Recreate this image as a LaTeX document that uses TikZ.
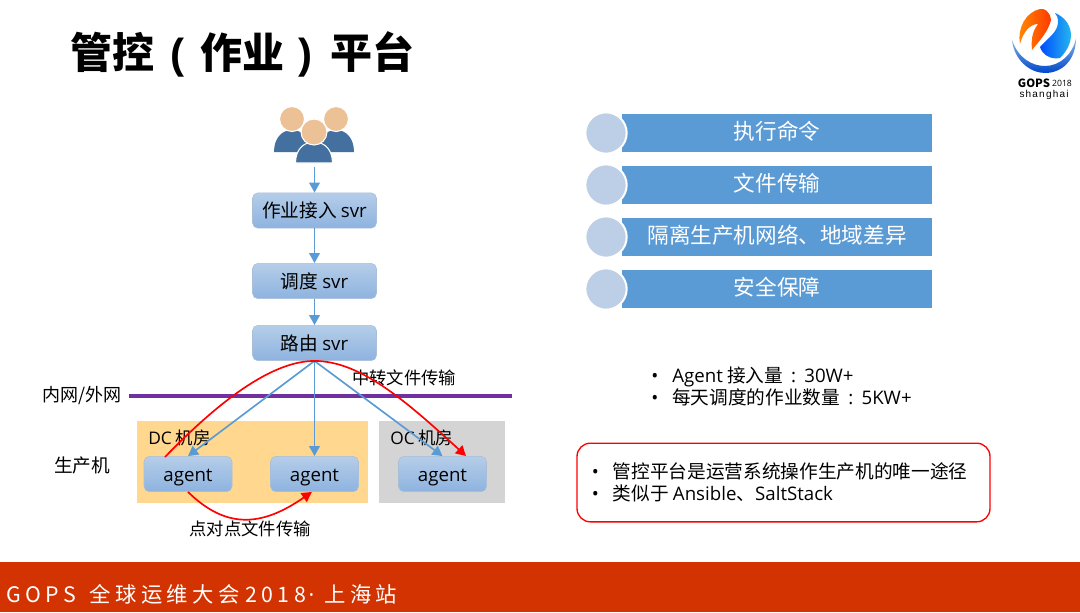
\documentclass[tikz,border=0pt]{standalone}
\usepackage{fontspec}
\setmainfont{Noto Sans CJK SC}
\newfontfamily\en{Open Sans}
\newfontfamily\footfont[LetterSpace=21]{Noto Sans CJK SC}
\newfontfamily\footdot{Open Sans}
\newfontfamily\titlefont{Liberation Sans}
\newfontfamily\logofont[LetterSpace=12]{Liberation Sans}
\usetikzlibrary{positioning, arrows.meta}
\newcommand{\bulletmark}{\makebox[15.75pt][l]{\en •}}
\newcommand{\colonmark}{\makebox[16pt][c]{\en :}}

\begin{document}
\begin{tikzpicture}[
        x=0.75pt, y=-0.75pt,
        widebox/.style={draw=boxedge, rounded corners=4pt, minimum width=93pt, minimum height=26.5pt, inner sep=0pt, top color=boxtop, bottom color=boxbottom, font=\fontsize{14}{16}\selectfont},
        agentbox/.style={widebox, minimum width=66pt, text height=10.5pt, text depth=0pt, font=\en\fontsize{14}{16}\selectfont},
        bluebar/.style={fill=barblue, minimum width=232.5pt, minimum height=28.5pt, inner sep=0pt, text=white, text height=13pt, text depth=3.2pt, font=\fontsize{16.2}{18}\selectfont},
        badge/.style={circle, draw=white, line width=1.5pt, fill=badgeblue, minimum size=31pt, inner sep=0pt},
        room/.style={minimum height=61.5pt, inner sep=0pt},
        arrow/.style={-{Triangle[length=7.5pt, width=8pt]}, line width=1.25pt},
        blue_arrow/.style={arrow, color=barblue},
        red_arrow/.style={arrow, color=red},
        black_label/.style={color=black, inner sep=0pt, font=\fontsize{13}{15}\selectfont},
        bullet_list/.style={anchor=west, align=left, inner sep=0pt, font=\fontsize{14}{16.5}\selectfont}
    ]
    \definecolor{boxedge}{HTML}{A9BFD6}
    \definecolor{boxtop}{HTML}{B5CDE9}
    \definecolor{boxbottom}{HTML}{8EB3DF}
    \definecolor{barblue}{HTML}{5B9BD5}
    \definecolor{badgeblue}{HTML}{BDCFE7}
    \definecolor{roomyellow}{HTML}{FFD78F}
    \definecolor{roomgray}{HTML}{D4D4D4}
    \definecolor{netpurple}{HTML}{7030A0}
    \definecolor{footred}{HTML}{D23300}
    \definecolor{skin}{HTML}{EDC196}
    \definecolor{suit}{HTML}{44709F}
    \useasboundingbox (0,0) rectangle (1080,612);

    % Title and footer
    \node[anchor=west, inner sep=0pt, font=\fontsize{31.5}{36}\bfseries\selectfont] (title) at (70,54) {管控\hspace{12pt}{\titlefont(}\hspace{12pt}作业\hspace{10.5pt}{\titlefont)}\hspace{13.5pt}平台};
    \fill[footred] (0,562) rectangle (1080,612);
    \node[anchor=west, inner sep=0pt, text=white, font=\footfont\fontsize{16}{18}\selectfont] (footer) at (6,594) {GOPS\hspace{3pt} 全球运维大会\hspace{4pt}2018\hspace{2pt}{\footdot·}\hspace{7.5pt}上海站};

    % Logo
    \shade[top color=barblue!70!white, bottom color=blue!65!cyan!80!black] (1012,40) .. controls (1014,60) and (1030,73) .. (1045,73) .. controls (1062,73) and (1076,60) .. (1076,38) .. controls (1073,54) and (1060,66) .. (1045,66) .. controls (1032,66) and (1018,58) .. (1012,40) -- cycle;
    \shade[left color=orange!90!yellow, right color=red!55!orange] (1020,44) .. controls (1017,28) and (1026,12) .. (1040,9) .. controls (1044,8) and (1050,11) .. (1051,20) .. controls (1048,32) and (1040,40) .. (1032,50) .. controls (1031,40) and (1032,32) .. (1038,24) .. controls (1030,24) and (1023,32) .. (1020,44) -- cycle;
    \shade[left color=blue!70!cyan, right color=cyan!50!barblue] (1055,13) .. controls (1072,20) and (1078,40) .. (1060,58) .. controls (1050,60) and (1042,54) .. (1040,47) .. controls (1048,38) and (1058,32) .. (1058,22) .. controls (1058,18) and (1057,15) .. (1055,13) -- cycle;
    \node[inner sep=0pt, font=\fontsize{8.5}{9}\bfseries\selectfont] (logo_name) at (1034,83) {GOPS};
    \node[inner sep=0pt, font=\en\fontsize{6.5}{8}\selectfont] (logo_year) at (1062,83) {2018};
    \node[inner sep=0pt, font=\logofont\fontsize{7.5}{8}\selectfont] (logo_city) at (1044,95) {shanghai};

    % Users
    \fill[suit] (274,152) .. controls (274,138) and (282,130) .. (292,130) .. controls (302,130) and (310,138) .. (310,152) -- cycle;
    \fill[suit] (318,152) .. controls (318,138) and (326,130) .. (336,130) .. controls (346,130) and (354,138) .. (354,152) -- cycle;
    \filldraw[fill=skin, draw=white, line width=0.8pt] (292,119) circle (12.5);
    \filldraw[fill=skin, draw=white, line width=0.8pt] (336,119) circle (12.5);
    \filldraw[fill=suit, draw=white, line width=0.8pt] (295.5,163) .. controls (295.5,150) and (303,142) .. (314,142) .. controls (325,142) and (332.5,150) .. (332.5,163) -- cycle;
    \filldraw[fill=skin, draw=white, line width=0.8pt] (314,132) circle (13);
    \coordinate (users) at (314.5,167);

    % Rooms
    \node[room, fill=roomyellow, minimum width=173.25pt] (dc_room) at (252.5,462) {};
    \node[room, fill=roomgray, minimum width=94.5pt] (oc_room) at (442,462) {};

    % Service boxes and agents
    \node[widebox] (access_svr) at (314.5,210.5) {作业接入 {\en svr}};
    \node[widebox] (sched_svr) at (314.5,281) {调度 {\en svr}};
    \node[widebox] (route_svr) at (314.5,343) {路由 {\en svr}};
    \node[agentbox] (agent_a) at (188,474) {agent};
    \node[agentbox] (agent_b) at (314.5,474) {agent};
    \node[agentbox] (agent_c) at (442.5,474) {agent};

    % Network line and labels
    \draw[netpurple, line width=2.6pt] (129,396) coordinate (net_start) -- (512,396) coordinate (net_end);
    \node[black_label, anchor=east, font=\fontsize{13.5}{15}\selectfont] (net_label) at (122,396) {内网/外网};
    \node[black_label, font=\fontsize{14}{16}\selectfont] (prod_label) at (82,465) {生产机};
    \node[black_label, anchor=west] (dc_label) at (148,438) {{\en DC} 机房};
    \node[black_label, anchor=west] (oc_label) at (390,438) {{\en OC} 机房};
    \node[black_label, anchor=west] (relay_label) at (352,378) {中转文件传输};
    \node[black_label] (p2p_label) at (250,529) {点对点文件传输};

    % Blue arrows
    \draw[blue_arrow] (users) -- (access_svr);
    \draw[blue_arrow] (access_svr) -- (sched_svr);
    \draw[blue_arrow] (sched_svr) -- (route_svr);
    \draw[blue_arrow] (route_svr.south) -- (agent_a.north);
    \draw[blue_arrow] (route_svr.south) -- (agent_b.north);
    \draw[blue_arrow] (route_svr.south) -- (agent_c.north);

    % Red file transfer curves
    \coordinate (relay_start) at (165,457);
    \coordinate (relay_end) at (466,456);
    \draw[red_arrow] (relay_start) .. controls (225,395) and (275,361) .. (route_svr.south) .. controls (360,361) and (405,400) .. (relay_end);
    \draw[red_arrow] (agent_a.south) .. controls (225,528) and (260,528) .. ([xshift=-2pt]agent_b.south);

    % Feature bars
    \node[bluebar] (exec_bar) at (777,133) {执行命令};
    \node[bluebar] (file_bar) at (777,185) {文件传输};
    \node[bluebar] (isolate_bar) at (777,237) {隔离生产机网络、地域差异};
    \node[bluebar] (safe_bar) at (777,289) {安全保障};
    \node[badge] (exec_dot) at (606,133) {};
    \node[badge] (file_dot) at (606,185) {};
    \node[badge] (isolate_dot) at (606,237) {};
    \node[badge] (safe_dot) at (606,289) {};

    % Notes
    \node[bullet_list] (stats_note) at (651,386) {\bulletmark {\en Agent} 接入量\colonmark{\en 30W+}\\\bulletmark 每天调度的作业数量\colonmark{\en 5KW+}};
    \node[draw=red, line width=1pt, rounded corners=10pt, minimum width=309.75pt, minimum height=59pt, inner sep=0pt] (key_box) at (783.5,482.5) {};
    \node[bullet_list] (key_note) at (591.5,482) {\bulletmark 管控平台是运营系统操作生产机的唯一途径\\\bulletmark 类似于 {\en Ansible}、{\en SaltStack}};
\end{tikzpicture}
\end{document}
